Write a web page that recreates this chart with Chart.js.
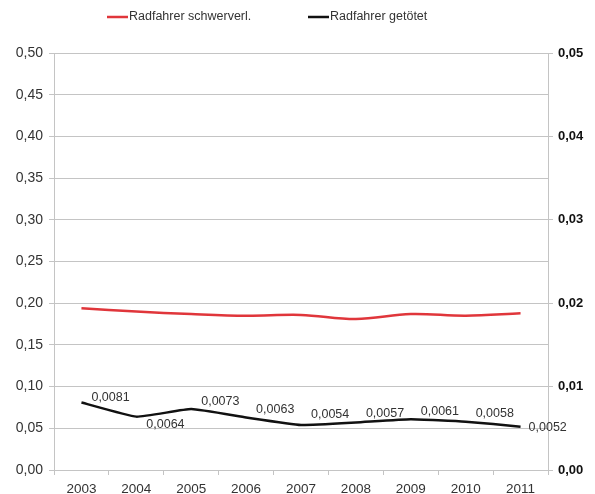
<!DOCTYPE html>
<html>
<head>
<meta charset="utf-8">
<script src="https://cdn.jsdelivr.net/npm/chart.js@4/dist/chart.umd.min.js"></script>
<style>
  html, body { margin: 0; padding: 0; background: #fff; }
  #wrap { width: 595px; height: 494px; }
</style>
</head>
<body>
<div id="wrap"><canvas id="c" width="595" height="494"></canvas></div>
<script>
// Jahre
const years = ['2003', '2004', '2005', '2006', '2007', '2008', '2009', '2010', '2011'];
// Radfahrer schwerverletzt (linke Achse)
const severelyInjured = [0.194, 0.190, 0.187, 0.185, 0.186, 0.181, 0.187, 0.185, 0.188];
// Radfahrer getötet (rechte Achse)
const killed = [0.0081, 0.0064, 0.0073, 0.0063, 0.0054, 0.0057, 0.0061, 0.0058, 0.0052];
// Achsenbeschriftungen
const leftTicks = [0, 0.05, 0.10, 0.15, 0.20, 0.25, 0.30, 0.35, 0.40, 0.45, 0.50];
const rightTicks = [0, 0.01, 0.02, 0.03, 0.04, 0.05];

const FONT = "'Liberation Sans', Arial, sans-serif";
const TEXT = '#333333';
const GRID = '#c4c4c4';
const RED = '#e0363b';
const BLACK = '#111111';

const fmt = (v, d) => v.toFixed(d).replace('.', ',');

// Legende oben, mittig, mit Liniensymbolen
const topLegend = {
  id: 'topLegend',
  afterDraw(chart) {
    const ctx = chart.ctx;
    const items = [
      { x: 107, label: chart.data.datasets[0].label, color: chart.data.datasets[0].borderColor },
      { x: 308, label: chart.data.datasets[1].label, color: chart.data.datasets[1].borderColor }
    ];
    ctx.save();
    ctx.font = '12.5px ' + FONT;
    ctx.textBaseline = 'middle';
    ctx.textAlign = 'left';
    items.forEach(it => {
      ctx.strokeStyle = it.color;
      ctx.lineWidth = 2.5;
      ctx.beginPath();
      ctx.moveTo(it.x, 17);
      ctx.lineTo(it.x + 21, 17);
      ctx.stroke();
      ctx.fillStyle = TEXT;
      ctx.fillText(it.label, it.x + 22, 17);
    });
    ctx.restore();
  }
};

// Werte der Getöteten neben den Punkten
const valueLabels = {
  id: 'valueLabels',
  afterDatasetsDraw(chart, args, opts) {
    const ctx = chart.ctx;
    const meta = chart.getDatasetMeta(1);
    const vals = chart.data.datasets[1].data;
    ctx.save();
    ctx.font = '12.5px ' + FONT;
    ctx.fillStyle = TEXT;
    ctx.textAlign = 'left';
    ctx.textBaseline = 'middle';
    meta.data.forEach((pt, i) => {
      ctx.fillText(fmt(vals[i], 4), pt.x + opts.dx[i], pt.y + opts.dy[i]);
    });
    ctx.restore();
  }
};

new Chart(document.getElementById('c'), {
  type: 'line',
  data: {
    labels: years,
    datasets: [
      {
        label: 'Radfahrer schwerverl.',
        data: severelyInjured,
        yAxisID: 'y',
        borderColor: RED,
        borderWidth: 2.5,
        pointRadius: 0,
        tension: 0.35,
        fill: false
      },
      {
        label: 'Radfahrer getötet',
        data: killed,
        yAxisID: 'y1',
        borderColor: BLACK,
        borderWidth: 2.5,
        pointRadius: 0,
        tension: 0.12,
        fill: false
      }
    ]
  },
  options: {
    responsive: false,
    animation: false,
    devicePixelRatio: 1,
    layout: { padding: { top: 53, left: 0, right: 0, bottom: 0 } },
    plugins: {
      legend: { display: false },
      tooltip: { enabled: false },
      valueLabels: {
        dx: [10, 10, 10, 10, 10, 10, 10, 10, 8],
        dy: [-5, 8, -8, -8, -10, -9, -8, -8, 1]
      }
    },
    scales: {
      x: {
        type: 'category',
        offset: true,
        grid: {
          offset: true,
          drawOnChartArea: false,
          drawTicks: true,
          tickLength: 5,
          color: GRID
        },
        border: { display: true, color: GRID, width: 1 },
        ticks: {
          color: TEXT,
          font: { family: FONT, size: 13.5 },
          padding: 6,
          maxRotation: 0,
          autoSkip: false
        },
        afterFit(scale) { scale.height = 24; }
      },
      y: {
        position: 'left',
        min: 0,
        max: 0.5,
        afterBuildTicks(scale) { scale.ticks = leftTicks.map(v => ({ value: v })); },
        grid: {
          color: GRID,
          lineWidth: 1,
          drawTicks: true,
          tickLength: 5
        },
        border: { display: true, color: GRID, width: 1 },
        ticks: {
          color: TEXT,
          font: { family: FONT, size: 14 },
          padding: 6,
          callback: v => fmt(v, 2)
        },
        afterFit(scale) { scale.width = 54; }
      },
      y1: {
        position: 'right',
        min: 0,
        max: 0.05,
        afterBuildTicks(scale) { scale.ticks = rightTicks.map(v => ({ value: v })); },
        grid: {
          drawOnChartArea: false,
          color: GRID,
          drawTicks: true,
          tickLength: 5
        },
        border: { display: true, color: GRID, width: 1 },
        ticks: {
          color: '#111111',
          font: { family: FONT, size: 13, weight: 'bold' },
          padding: 5,
          callback: v => fmt(v, 2)
        },
        afterFit(scale) { scale.width = 47; }
      }
    }
  },
  plugins: [topLegend, valueLabels]
});
</script>
</body>
</html>
